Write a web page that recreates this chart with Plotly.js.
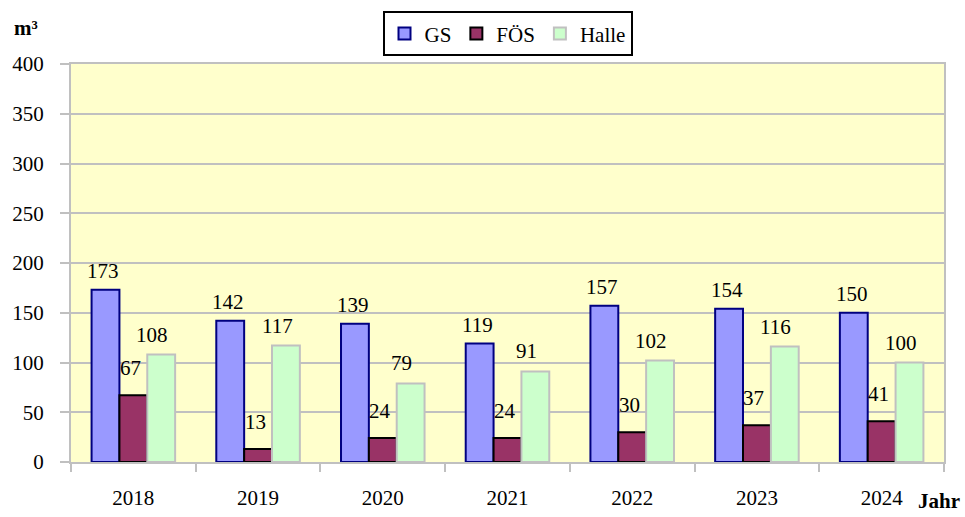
<!DOCTYPE html>
<html>
<head>
<meta charset="utf-8">
<script src="https://cdn.plot.ly/plotly-3.0.1.min.js"></script>
<style>html,body{margin:0;padding:0;background:#fff;}#chart{width:965px;height:517px;}</style>
</head>
<body>
<div id="chart"></div>
<script>
const years = ['2018','2019','2020','2021','2022','2023','2024'];
const gs    = [173, 142, 139, 119, 157, 154, 150];
const foes  = [67, 13, 24, 24, 30, 37, 41];
const halle = [108, 117, 79, 91, 102, 116, 100];
const seriesNames = ['GS', 'FÖS', 'Halle'];
const yTicks = [0, 50, 100, 150, 200, 250, 300, 350, 400];

const font = 'Liberation Serif, Times New Roman, serif';
const fills = ['#9999FF', '#993366', '#CCFFCC'];
const lines = ['#000080', '#000000', '#C0C0C0'];
const allVals = [gs, foes, halle];

const traces = allVals.map((v, i) => ({
  type: 'bar', name: seriesNames[i], x: years, y: v,
  marker: {color: fills[i], line: {color: lines[i], width: 2}},
  hoverinfo: 'skip'
}));

const xShift = [-30, -3, 19];
const yShift = [19, 27, 20];
const annotations = [];
allVals.forEach((v, i) => {
  v.forEach((val, j) => {
    annotations.push({
      x: j, y: val, xref: 'x', yref: 'y', text: String(val),
      showarrow: false, xshift: xShift[i], yshift: yShift[i],
      font: {family: font, size: 21, color: '#000'}
    });
  });
});
annotations.push({xref: 'paper', yref: 'paper', x: -0.068, y: 1.09, xanchor: 'left', yanchor: 'middle',
  text: '<b>m³</b>', showarrow: false, font: {family: font, size: 21, color: '#000'}});
annotations.push({xref: 'paper', yref: 'paper', x: 1.0, y: -0.097, xanchor: 'right', yanchor: 'middle',
  xshift: 18, text: '<b>Jahr</b>', showarrow: false, font: {family: font, size: 21, color: '#000'}});

const layout = {
  width: 965, height: 517,
  margin: {l: 71, r: 21, t: 61, b: 55},
  paper_bgcolor: '#FFFFFF', plot_bgcolor: '#FFFFCC',
  barmode: 'group', bargap: 0.33, bargroupgap: 0,
  showlegend: true,
  legend: {orientation: 'h', x: 0.5, xanchor: 'center', y: 1.132, yanchor: 'top',
    bordercolor: '#000', borderwidth: 2, bgcolor: '#fff',
    font: {family: font, size: 21, color: '#000'}, itemwidth: 30, traceorder: 'normal'},
  xaxis: {type: 'category', range: [-0.5, 6.5], autorange: false, tickson: 'boundaries', ticks: 'outside', ticklen: 8, tickwidth: 2,
    tickcolor: '#C0C0C0', showline: true, linecolor: '#C0C0C0', linewidth: 2, mirror: true,
    showgrid: false, ticklabelstandoff: 16,
    tickfont: {family: font, size: 21, color: '#000'}, fixedrange: true},
  yaxis: {range: [0, 400], autorange: false, tickvals: yTicks, ticks: 'outside', ticklen: 9, tickwidth: 2,
    tickcolor: '#C0C0C0', showline: true, linecolor: '#C0C0C0', linewidth: 2, mirror: true,
    showgrid: true, gridcolor: '#C0C0C0', gridwidth: 2, zeroline: false, ticklabelstandoff: 12,
    tickfont: {family: font, size: 21, color: '#000'}, fixedrange: true},
  annotations: annotations
};

Plotly.newPlot('chart', traces, layout, {displayModeBar: false, staticPlot: true});
</script>
</body>
</html>
